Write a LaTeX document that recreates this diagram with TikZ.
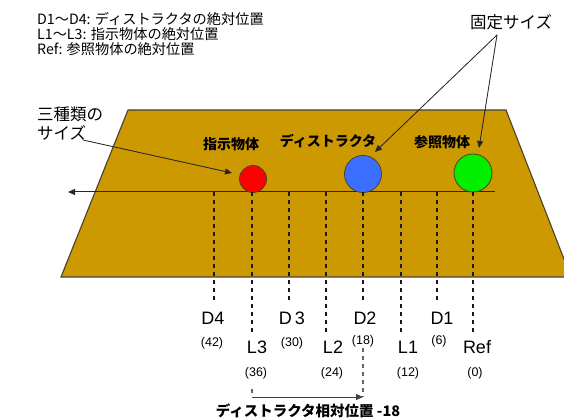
\documentclass[tikz,border=0pt]{standalone}
\usepackage{fontspec}
\setmainfont{Liberation Sans}
\newfontfamily\jp{Noto Sans CJK JP}
\usetikzlibrary{arrows.meta,calc}
\definecolor{gold}{HTML}{CC9900}
\definecolor{edge}{HTML}{4A4030}
\definecolor{redball}{HTML}{FF0000}
\definecolor{blueball}{HTML}{3C6EFF}
\definecolor{greenball}{HTML}{00F000}
\begin{document}
\begin{tikzpicture}[x=1pt,y=-1pt,
  note/.style={font=\jp\fontsize{14.2}{15}\selectfont, inner sep=0pt, anchor=north west, align=left},
  bignote/.style={font=\jp\fontsize{16.5}{19}\selectfont, inner sep=0pt, align=left},
  objlab/.style={font=\jp\bfseries\fontsize{14}{16}\selectfont, inner sep=0pt},
  poslab/.style={font=\fontsize{18}{20}\selectfont, inner sep=0pt},
  numlab/.style={font=\fontsize{12.5}{14}\selectfont, inner sep=0pt},
  guide/.style={dash pattern=on 4pt off 4pt, line width=1.1pt, draw=black!90},
  ptr/.style={-{Triangle[length=7pt,width=6pt]}, line width=0.8pt, draw=black!85, fill=black!85},
  ball/.style={circle, draw=edge, line width=0.8pt, inner sep=0pt}
]
\useasboundingbox (0,0) rectangle (564,419);

% board
\filldraw[fill=gold, draw=edge, line width=1.1pt] (128,110) -- (506,110) -- (571,277) -- (61,277) -- cycle;

% notes
\node[note] (legend) at (37,12) {D1～D4: ディストラクタの絶対位置\\L1～L3: 指示物体の絶対位置\\Ref: 参照物体の絶対位置};
\node[bignote, anchor=west] (fixed) at (470,22) {固定サイズ};
\node[bignote, anchor=north west] (three) at (37,107) {三種類の\\サイズ};

% axis
\coordinate (axR) at (495,192);
\coordinate (axL) at (68,192);
\draw[ptr, line width=1pt] (axR) -- (axL);

% balls
\node[ball, fill=redball, minimum size=27pt] (red) at (253,179) {};
\node[ball, fill=blueball, minimum size=37pt] (blue) at (363,174) {};
\node[ball, fill=greenball, minimum size=38pt] (green) at (473,173) {};

% object labels
\node[objlab] (lab1) at (231,144) {指示物体};
\node[objlab] (lab2) at (328,141) {ディストラクタ};
\node[objlab] (lab3) at (442,142) {参照物体};

% pointers
\coordinate (fixedFoot) at (497,35);
\coordinate (tipBlue) at (375,152);
\coordinate (tipGreen) at (479,148);
\coordinate (threeFoot) at (83,140);
\coordinate (tipRed) at (232,173);
\draw[ptr] (fixedFoot) -- (tipBlue);
\draw[ptr] (fixedFoot) -- (tipGreen);
\draw[ptr] (threeFoot) -- (tipRed);

% axis points
\coordinate (aD4) at (214,192);
\coordinate (aL3) at (252,192);
\coordinate (aD3) at (289,192);
\coordinate (aL2) at (326,192);
\coordinate (aD2) at (363,192);
\coordinate (aL1) at (401,192);
\coordinate (aD1) at (437,192);
\coordinate (aRef) at (473,192);

% position labels
\node[poslab] (D4) at (213,318) {D4};
\node[poslab] (D3) at (292,318) {D\,3};
\node[poslab] (D2) at (365,318) {D2};
\node[poslab] (D1) at (442,318) {D1};
\node[poslab] (L3) at (257,347) {L3};
\node[poslab] (L2) at (333,347) {L2};
\node[poslab] (L1) at (408,347) {L1};
\node[poslab] (Ref) at (477,347) {Ref};

\node[numlab] (n42) at (212,343) {(42)};
\node[numlab] (n30) at (292,343) {(30)};
\node[numlab] (n18) at (363,341) {(18)};
\node[numlab] (n6) at (439,341) {(6)};
\node[numlab] (n36) at (256,373) {(36)};
\node[numlab] (n24) at (332,373) {(24)};
\node[numlab] (n12) at (408,373) {(12)};
\node[numlab] (n0) at (475,373) {(0)};

% guides
\foreach \a/\l in {aD4/D4, aD3/D3, aD2/D2, aD1/D1}
  \draw[guide, shorten >=10pt] (\a) -- (\a |- \l.north);
\foreach \a/\l in {aL3/L3, aL2/L2, aL1/L1, aRef/Ref}
  \draw[guide, shorten >=7pt] (\a) -- (\a |- \l.north);

% relative position
\coordinate (eL3) at (252,397);
\coordinate (eD2) at (363,397);
\draw[guide, draw=black!60, shorten <=10pt] (eL3 |- n36.south) -- (eL3);
\draw[guide, draw=black!60, shorten <=1pt] (eD2 |- n18.south) -- (eD2);
\draw[ptr, line width=1pt, draw=black!75, fill=black!75] (eL3) -- (eD2);
\node[objlab, font=\jp\bfseries\fontsize{14.5}{16}\selectfont] (rel) at (308,411) {ディストラクタ相対位置 -18};
\end{tikzpicture}
\end{document}
